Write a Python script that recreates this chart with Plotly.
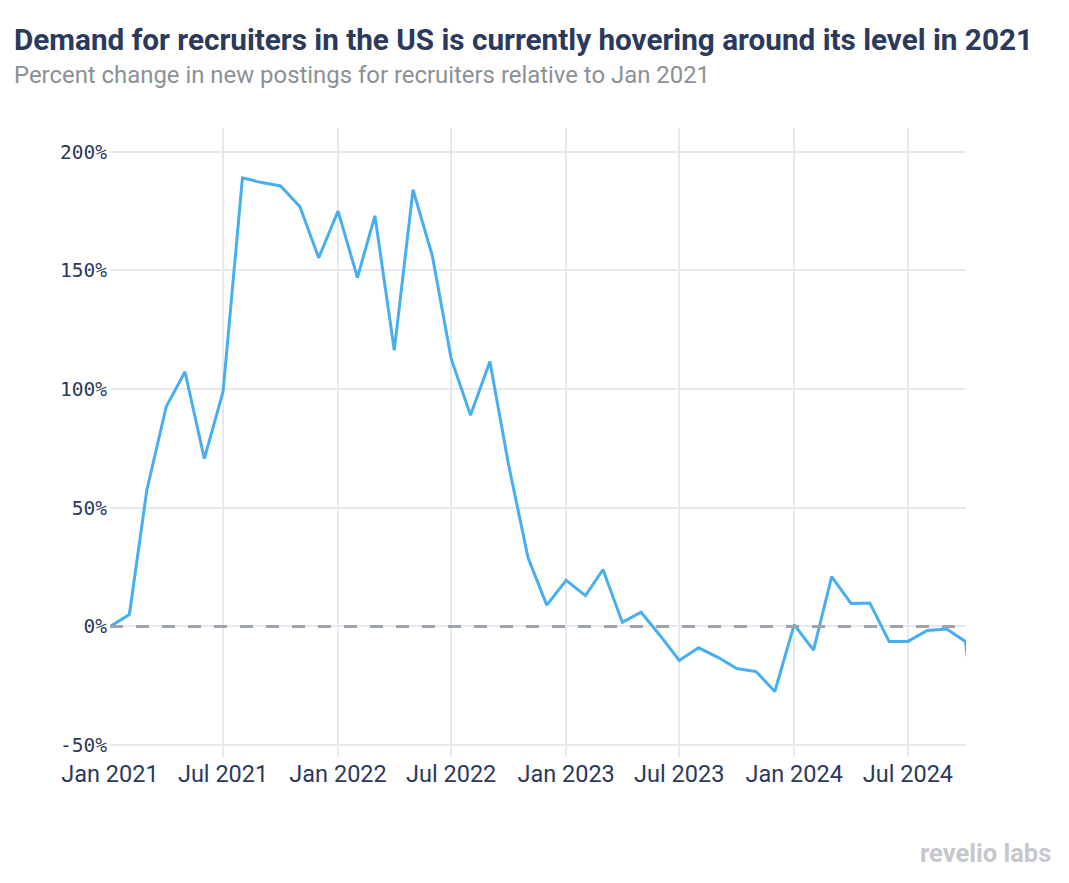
import plotly.graph_objects as go
import pandas as pd

dates = pd.date_range("2021-01-01", "2024-11-01", freq="MS").strftime("%Y-%m-%d").tolist()
values = [
    0, 5, 57.5, 92.6, 107.3, 70.7, 99, 189, 187, 185.6, 176.8, 155.3,
    175, 147, 173, 116.4, 184, 156, 112.8, 89, 111.6, 68, 29, 9,
    19.4, 13, 24, 1.7, 6, -4, -14.3, -9, -13, -17.7, -19, -27.4,
    0.8, -10, 21, 9.7, 9.9, -6.3, -6.3, -1.7, -1.1, -6.3, -70,
]
tick_vals = ["2021-01-01", "2021-07-01", "2022-01-01", "2022-07-01", "2023-01-01",
             "2023-07-01", "2024-01-01", "2024-07-01"]
tick_text = ["Jan 2021", "Jul 2021", "Jan 2022", "Jul 2022", "Jan 2023",
             "Jul 2023", "Jan 2024", "Jul 2024"]
y_ticks = [-50, 0, 50, 100, 150, 200]
y_text = ["-50%", "0%", "50%", "100%", "150%", "200%"]

title = "Demand for recruiters in the US is currently hovering around its level in 2021"
subtitle = "Percent change in new postings for recruiters relative to Jan 2021"

fig = go.Figure()
fig.add_trace(go.Scatter(x=dates, y=values, mode="lines",
                         line=dict(color="#47aef0", width=3), hoverinfo="skip"))

fig.add_shape(type="line", xref="paper", yref="y", x0=0, x1=1, y0=0, y1=0,
              line=dict(color="#9ea3b0", width=3, dash="13px,13px"), layer="above")

fig.update_layout(
    width=1061, height=875,
    margin=dict(l=102, r=103, t=120, b=126),
    paper_bgcolor="white", plot_bgcolor="white",
    showlegend=False,
    font=dict(family="Roboto", color="#2b3a5c"),
    xaxis=dict(type="date", range=["2021-01-01", "2024-10-02"],
               tickvals=tick_vals, ticktext=tick_text,
               tickfont=dict(family="Roboto", size=23.5, color="#2b3a5c"),
               showgrid=True, gridcolor="#e8e8ee", gridwidth=2,
               zeroline=False, showline=False, ticks=""),
    yaxis=dict(range=[-55, 210], tickvals=y_ticks, ticktext=y_text,
               tickfont=dict(family="DejaVu Sans Mono", size=19.5, color="#2b3a5c"),
               showgrid=True, gridcolor="#e8e8ee", gridwidth=2,
               zeroline=False, showline=False, ticks="", ticklabelstandoff=2),
    annotations=[
        dict(text="<b>" + title + "</b>", xref="paper", yref="paper",
             x=-0.1145, y=1.14, xanchor="left", yanchor="middle", showarrow=False,
             font=dict(family="Roboto", size=29.7, color="#2b3a5c")),
        dict(text=subtitle, xref="paper", yref="paper",
             x=-0.1145, y=1.0843, xanchor="left", yanchor="middle", showarrow=False,
             font=dict(family="Roboto", size=23.9, color="#8c9196")),
        dict(text="<b>revelio labs</b>", xref="paper", yref="paper",
             x=1.102, y=-0.153, xanchor="right", yanchor="middle", showarrow=False,
             font=dict(family="Roboto", size=25.5, color="#c5c8cc")),
    ],
)

fig.write_html("out.html")
